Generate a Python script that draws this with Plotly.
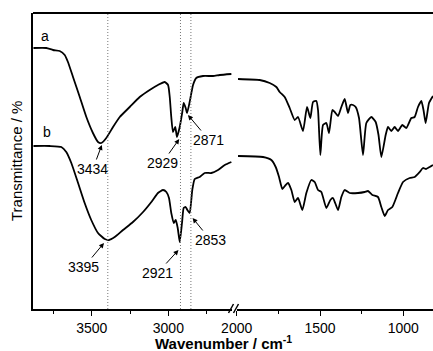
import plotly.graph_objects as go

# ---- data (wavenumber / cm-1, transmittance in arbitrary units) ----
a_left_wn = [3880, 3796, 3752, 3709, 3676, 3655, 3622, 3578, 3535, 3492, 3459, 3437, 3405, 3361, 3317,
             3252, 3187, 3122, 3068, 3024, 3002, 2991, 2981, 2970, 2955, 2944, 2926, 2909, 2900, 2887,
             2878, 2861, 2839, 2818, 2774, 2709, 2665, 2589]
a_left_t = [261, 261, 259, 258, 254, 247, 232, 212, 192, 176, 167, 166, 171, 182, 192,
            202, 212, 219, 224, 227, 224, 212, 192, 177, 182, 172, 182, 197, 206, 201,
            196, 207, 224, 231, 233, 233, 234, 235]

b_left_wn = [3880, 3774, 3698, 3666, 3633, 3589, 3546, 3503, 3459, 3415, 3387, 3350, 3296, 3231, 3165,
             3111, 3068, 3035, 3013, 2996, 2981, 2965, 2952, 2939, 2926, 2911, 2900, 2887, 2876, 2861,
             2844, 2828, 2796, 2763, 2720, 2676, 2632, 2589]
b_left_t = [163, 163, 162, 157, 146, 126, 106, 89, 76, 70, 69, 72, 79, 87, 97,
            107, 116, 119, 117, 111, 96, 86, 89, 81, 67, 86, 101, 102, 99, 96,
            119, 130, 132, 136, 136, 139, 144, 147]

a_right_wn = [1992, 1862, 1802, 1762, 1742, 1712, 1682, 1652, 1632, 1602, 1578, 1558, 1542, 1522, 1512,
              1498, 1482, 1462, 1446, 1426, 1412, 1392, 1372, 1352, 1332, 1318, 1302, 1286, 1266, 1242,
              1222, 1192, 1166, 1149, 1132, 1106, 1092, 1072, 1052, 1032, 1006, 982, 952, 932, 912,
              892, 879, 866, 846, 826, 822]
a_right_t = [230, 229, 226, 222, 217, 212, 201, 189, 192, 178, 202, 191, 207, 208, 199,
             154, 184, 186, 176, 199, 197, 193, 202, 210, 196, 204, 204, 202, 191, 154,
             186, 192, 187, 174, 152, 174, 182, 178, 182, 178, 184, 181, 191, 192, 202,
             208, 199, 186, 206, 212, 213]

b_right_wn = [1992, 1842, 1792, 1766, 1746, 1726, 1706, 1692, 1672, 1652, 1632, 1606, 1582, 1552, 1532,
              1512, 1492, 1462, 1438, 1422, 1392, 1372, 1352, 1322, 1272, 1232, 1212, 1186, 1152, 1132,
              1112, 1092, 1066, 1032, 1002, 962, 932, 902, 882, 864, 842, 822]
b_right_t = [153, 152, 149, 142, 132, 120, 124, 126, 119, 107, 111, 99, 116, 129, 127,
             119, 117, 101, 109, 111, 99, 112, 119, 116, 116, 117, 118, 114, 112, 102,
             93, 99, 102, 116, 127, 131, 132, 137, 141, 140, 142, 144]

dotted_wn = [3395, 2921, 2853]

# peak labels: text, arrow-head wavenumber / T, text offset in px
peak_labels = ["3434", "2929", "2871", "3395", "2921", "2853"]
peak_x = [3434, 2929, 2872, 3420, 2934, 2842]
peak_y = [164, 170, 194, 66, 59, 91]
peak_ax = [-9, -17, 21, -20, -21, 18]
peak_ay = [24, 24, 25, 24, 23, 22]

series_names = ["a", "b"]
left_ticks = [3500, 3000]
left_minor = [3750, 3250, 2750]
right_ticks = [2000, 1500, 1000]
right_minor = [1750, 1250]

FONT = "Arial, Liberation Sans, sans-serif"
W, H = 433, 351
ML, MR, MT, MB = 33, 0, 13, 42
PW, PH = W - ML - MR, H - MT - MB


def px(x):
    return (x - ML) / PW


def py(y):
    return (H - MB - y) / PH


line = dict(color="black", width=1.8, shape="spline", smoothing=0.5)
fig = go.Figure()
fig.add_trace(go.Scatter(x=a_left_wn, y=a_left_t, mode="lines", line=line, xaxis="x", yaxis="y"))
fig.add_trace(go.Scatter(x=b_left_wn, y=b_left_t, mode="lines", line=line, xaxis="x", yaxis="y"))
fig.add_trace(go.Scatter(x=a_right_wn, y=a_right_t, mode="lines", line=line, xaxis="x2", yaxis="y"))
fig.add_trace(go.Scatter(x=b_right_wn, y=b_right_t, mode="lines", line=line, xaxis="x2", yaxis="y"))

shapes = []
for wn in dotted_wn:
    shapes.append(dict(type="line", xref="x", yref="paper", x0=wn, x1=wn, y0=0, y1=1,
                       line=dict(color="#777777", width=1, dash="1px,2px")))
# top frame line
shapes.append(dict(type="line", xref="paper", yref="paper", x0=0, x1=1, y0=1, y1=1,
                   line=dict(color="black", width=1.8)))
# axis break marks
for x0 in (228.5, 233.5):
    shapes.append(dict(type="line", xref="paper", yref="paper",
                       x0=px(x0), x1=px(x0 + 5), y0=py(313), y1=py(304),
                       line=dict(color="black", width=1.5)))

annotations = []
for t, x, y, ax, ay in zip(peak_labels, peak_x, peak_y, peak_ax, peak_ay):
    annotations.append(dict(text=t, x=x, y=y, xref="x", yref="y", ax=ax, ay=ay,
                            showarrow=True, arrowhead=2, arrowsize=1, arrowwidth=1,
                            arrowcolor="black", standoff=0, startstandoff=0,
                            font=dict(family=FONT, size=14, color="black")))
annotations.append(dict(text=series_names[0], x=px(45), y=py(36), xref="paper", yref="paper",
                        xanchor="center", yanchor="middle",
                        showarrow=False, font=dict(family=FONT, size=14, color="black")))
annotations.append(dict(text=series_names[1], x=px(46.7), y=py(132), xref="paper", yref="paper",
                        xanchor="center", yanchor="middle",
                        showarrow=False, font=dict(family=FONT, size=14, color="black")))
annotations.append(dict(text="Transmittance / %", x=px(16), y=0.5, xref="paper", yref="paper",
                        xanchor="center", yanchor="middle",
                        textangle=-90, showarrow=False,
                        font=dict(family=FONT, size=15, color="black")))
annotations.append(dict(text="<b>Wavenumber / cm<sup>-1</sup></b>", x=px(223), y=py(342),
                        xref="paper", yref="paper", showarrow=False,
                        xanchor="center", yanchor="middle",
                        font=dict(family=FONT, size=15, color="black")))

axis_common = dict(showline=True, linecolor="black", linewidth=1.8, ticks="outside", ticklen=5,
                   tickwidth=1.2, tickcolor="black", showgrid=False, zeroline=False,
                   tickfont=dict(family=FONT, size=14, color="black"))

fig.update_layout(
    width=W, height=H, margin=dict(l=ML, r=MR, t=MT, b=MB),
    paper_bgcolor="white", plot_bgcolor="white", showlegend=False,
    xaxis=dict(domain=[0, px(232)], range=[3883, 3883 - (232 - ML) / 0.1533],
               tickvals=left_ticks, ticktext=[str(v) for v in left_ticks],
               minor=dict(tickvals=left_minor, ticklen=3, ticks="outside", tickcolor="black", tickwidth=1.2),
               **axis_common),
    xaxis2=dict(domain=[px(236.7), 1], range=[2000, 822], anchor="y",
                tickvals=right_ticks, ticktext=[str(v) for v in right_ticks],
                minor=dict(tickvals=right_minor, ticklen=3, ticks="outside", tickcolor="black", tickwidth=1.2),
                **axis_common),
    yaxis=dict(range=[0, PH], showline=True, linecolor="black", linewidth=1.8, ticks="",
               showticklabels=False, showgrid=False, zeroline=False),
    shapes=shapes, annotations=annotations,
)

fig.write_html("out.html")
